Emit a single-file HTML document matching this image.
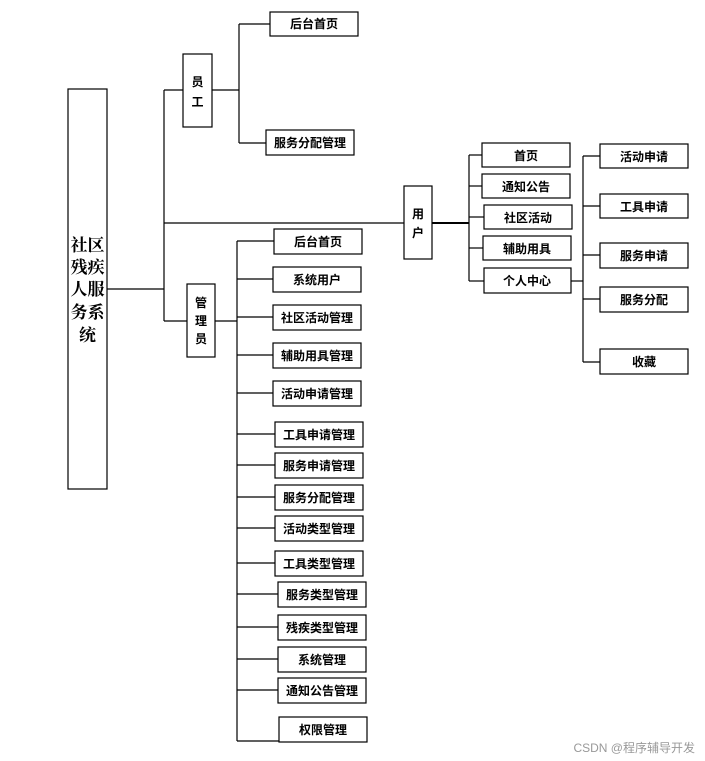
<!DOCTYPE html>
<html><head><meta charset="utf-8"><style>
body{margin:0;background:#fff}
svg{display:block}
text{font-family:"Liberation Sans","Noto Sans CJK SC",sans-serif;font-weight:bold;font-size:12px;fill:#000}
text.root{font-size:17px;font-family:"Liberation Serif","Noto Serif CJK SC",serif}
rect{fill:#fff;stroke:#000;stroke-width:1.2}
line{stroke:#000;stroke-width:1.2}
</style></head><body>
<svg width="705" height="761" viewBox="0 0 705 761">
<!-- root -->
<rect x="68" y="89" width="39" height="400"/>
<text class="root" x="87.5" y="251" text-anchor="middle">社区</text>
<text class="root" x="87.5" y="273" text-anchor="middle">残疾</text>
<text class="root" x="87.5" y="295" text-anchor="middle">人服</text>
<text class="root" x="87.5" y="318" text-anchor="middle">务系</text>
<text class="root" x="87.5" y="341" text-anchor="middle">统</text>
<line x1="107" y1="289" x2="164" y2="289"/>
<line x1="164" y1="90" x2="164" y2="321"/>
<line x1="164" y1="90" x2="183" y2="90"/>
<line x1="164" y1="223" x2="404" y2="223"/>
<line x1="164" y1="321" x2="187" y2="321"/>

<!-- 员工 -->
<rect x="183" y="54" width="29" height="73"/>
<text x="197.5" y="86" text-anchor="middle">员</text>
<text x="197.5" y="106" text-anchor="middle">工</text>
<line x1="212" y1="90" x2="239" y2="90"/>
<line x1="239" y1="24" x2="239" y2="143"/>
<line x1="239" y1="24" x2="270" y2="24"/>
<line x1="239" y1="143" x2="266" y2="143"/>
<rect x="270" y="12" width="88" height="24"/><text x="314" y="28" text-anchor="middle">后台首页</text>
<rect x="266" y="130" width="88" height="25"/><text x="310" y="147" text-anchor="middle">服务分配管理</text>

<!-- 管理员 -->
<rect x="187" y="284" width="28" height="73"/>
<text x="201" y="307" text-anchor="middle">管</text>
<text x="201" y="325" text-anchor="middle">理</text>
<text x="201" y="343" text-anchor="middle">员</text>
<line x1="215" y1="321" x2="237" y2="321"/>
<line x1="237" y1="241" x2="237" y2="741"/>
<g>
<line x1="237" y1="241" x2="274" y2="241"/><rect x="274" y="229" width="88" height="25"/><text x="318" y="246" text-anchor="middle">后台首页</text>
<line x1="237" y1="279" x2="273" y2="279"/><rect x="273" y="267" width="88" height="25"/><text x="317" y="284" text-anchor="middle">系统用户</text>
<line x1="237" y1="317" x2="273" y2="317"/><rect x="273" y="305" width="88" height="25"/><text x="317" y="322" text-anchor="middle">社区活动管理</text>
<line x1="237" y1="355" x2="273" y2="355"/><rect x="273" y="343" width="88" height="25"/><text x="317" y="360" text-anchor="middle">辅助用具管理</text>
<line x1="237" y1="393" x2="273" y2="393"/><rect x="273" y="381" width="88" height="25"/><text x="317" y="398" text-anchor="middle">活动申请管理</text>
<line x1="237" y1="434" x2="275" y2="434"/><rect x="275" y="422" width="88" height="25"/><text x="319" y="439" text-anchor="middle">工具申请管理</text>
<line x1="237" y1="465" x2="275" y2="465"/><rect x="275" y="453" width="88" height="25"/><text x="319" y="470" text-anchor="middle">服务申请管理</text>
<line x1="237" y1="497" x2="275" y2="497"/><rect x="275" y="485" width="88" height="25"/><text x="319" y="502" text-anchor="middle">服务分配管理</text>
<line x1="237" y1="528" x2="275" y2="528"/><rect x="275" y="516" width="88" height="25"/><text x="319" y="533" text-anchor="middle">活动类型管理</text>
<line x1="237" y1="563" x2="275" y2="563"/><rect x="275" y="551" width="88" height="25"/><text x="319" y="568" text-anchor="middle">工具类型管理</text>
<line x1="237" y1="594" x2="278" y2="594"/><rect x="278" y="582" width="88" height="25"/><text x="322" y="599" text-anchor="middle">服务类型管理</text>
<line x1="237" y1="627" x2="278" y2="627"/><rect x="278" y="615" width="88" height="25"/><text x="322" y="632" text-anchor="middle">残疾类型管理</text>
<line x1="237" y1="659" x2="278" y2="659"/><rect x="278" y="647" width="88" height="25"/><text x="322" y="664" text-anchor="middle">系统管理</text>
<line x1="237" y1="690" x2="278" y2="690"/><rect x="278" y="678" width="88" height="25"/><text x="322" y="695" text-anchor="middle">通知公告管理</text>
<line x1="237" y1="741" x2="279" y2="741"/><rect x="279" y="717" width="88" height="25"/><text x="323" y="734" text-anchor="middle">权限管理</text>
</g>

<!-- 用户 -->
<rect x="404" y="186" width="28" height="73"/>
<text x="418" y="218" text-anchor="middle">用</text>
<text x="418" y="237" text-anchor="middle">户</text>
<line x1="432" y1="223" x2="469" y2="223" style="stroke-width:2"/>
<line x1="469" y1="155" x2="469" y2="281"/>
<line x1="469" y1="155" x2="482" y2="155"/><rect x="482" y="143" width="88" height="24"/><text x="526" y="160" text-anchor="middle">首页</text>
<line x1="469" y1="186" x2="482" y2="186"/><rect x="482" y="174" width="88" height="24"/><text x="526" y="191" text-anchor="middle">通知公告</text>
<line x1="469" y1="217" x2="484" y2="217"/><rect x="484" y="205" width="88" height="24"/><text x="528" y="222" text-anchor="middle">社区活动</text>
<line x1="469" y1="248" x2="483" y2="248"/><rect x="483" y="236" width="88" height="24"/><text x="527" y="253" text-anchor="middle">辅助用具</text>
<line x1="469" y1="281" x2="484" y2="281"/><rect x="484" y="268" width="87" height="25"/><text x="527" y="285" text-anchor="middle">个人中心</text>
<line x1="571" y1="281" x2="583" y2="281"/>
<line x1="583" y1="156" x2="583" y2="362"/>
<line x1="583" y1="156" x2="600" y2="156"/><rect x="600" y="144" width="88" height="24"/><text x="644" y="161" text-anchor="middle">活动申请</text>
<line x1="583" y1="206" x2="600" y2="206"/><rect x="600" y="194" width="88" height="24"/><text x="644" y="211" text-anchor="middle">工具申请</text>
<line x1="583" y1="255" x2="600" y2="255"/><rect x="600" y="243" width="88" height="25"/><text x="644" y="260" text-anchor="middle">服务申请</text>
<line x1="583" y1="299" x2="600" y2="299"/><rect x="600" y="287" width="88" height="25"/><text x="644" y="304" text-anchor="middle">服务分配</text>
<line x1="583" y1="362" x2="600" y2="362"/><rect x="600" y="349" width="88" height="25"/><text x="644" y="366" text-anchor="middle">收藏</text>

<text x="695" y="752" text-anchor="end" style="font-weight:normal;font-size:12px;fill:#999">CSDN @程序辅导开发</text>
</svg>
</body></html>
